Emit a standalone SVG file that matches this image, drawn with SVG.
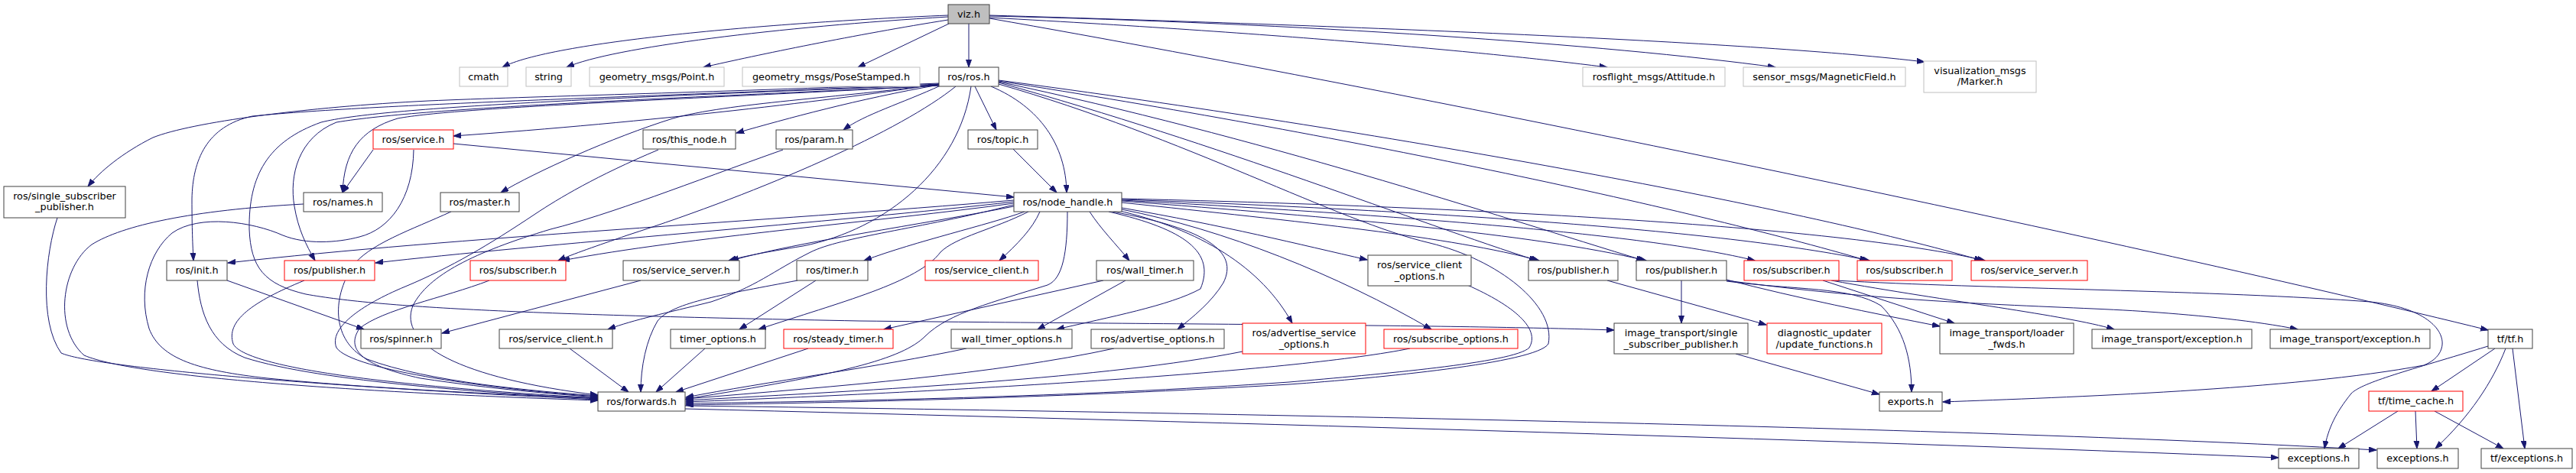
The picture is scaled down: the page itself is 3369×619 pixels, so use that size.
<svg xmlns="http://www.w3.org/2000/svg" width="3369" height="619" viewBox="0 0 3369 619">
<style>
rect{fill:#fff;stroke:#404040;stroke-width:1}
.r rect{stroke:#ff0000}
.g rect{stroke:#bfbfbf}
.m rect{fill:#bfbfbf}
text{font-family:"DejaVu Sans",sans-serif;font-size:12.8px;text-anchor:middle;fill:#000}
#edges path{fill:none;stroke:#191970;stroke-width:1;marker-end:url(#a)}
</style>
<defs>
<marker id="a" markerWidth="12" markerHeight="9" refX="10" refY="3.5" orient="auto" markerUnits="userSpaceOnUse"><path d="M0,0 L10,3.5 L0,7 z" fill="#191970" stroke="#191970"/></marker>
</defs>
<rect x="0" y="0" width="3369" height="619" style="fill:#fff;stroke:none"/>
<g id="edges">
<path d="M1240,20 C1000,30 720,55 657,88"/>
<path d="M1240,22 C1020,35 800,62 741,88"/>
<path d="M1240,26 C1120,45 990,72 920,88"/>
<path d="M1241,31 L1122,88"/>
<path d="M1267,31 L1267,88"/>
<path d="M1294,23 C1700,45 1960,70 2102,88"/>
<path d="M1294,21 C1700,30 2100,58 2322,88"/>
<path d="M1294,20 C1800,35 2300,55 2517,81"/>
<path d="M1294,24 C1900,130 2800,320 3254,432"/>
<path d="M1275,113 L1303,170"/>
<path d="M1296,113 C1360,140 1394,190 1395,252"/>
<path d="M1325,195 L1382,252"/>
<path d="M593,188 L1326,258"/>
<path d="M1228,110 C1100,130 850,160 593,178"/>
<path d="M1228,111 C1120,130 1030,155 963,174"/>
<path d="M1230,112 C1180,135 1130,150 1103,170"/>
<path d="M1228,110 C1100,128 950,135 880,155 C800,180 700,225 655,252"/>
<path d="M1270,113 C1255,220 1160,300 1050,322 C1000,330 970,336 953,341"/>
<path d="M1250,113 C1180,170 1000,250 820,308 C780,322 750,332 730,341"/>
<path d="M1228,109 C900,122 700,126 560,132 C400,140 250,160 200,180 C160,200 130,225 115,244"/>
<path d="M1228,110 C900,125 500,135 330,152 C270,165 252,210 251,260 C251,300 252,320 253,341"/>
<path d="M1228,111 C800,128 500,140 420,160 C350,185 325,230 326,300 C328,350 345,372 400,385 C500,403 700,412 1124,420 C1600,425 1900,425 2111,432"/>
<path d="M1228,112 C900,130 600,140 520,155 C470,170 450,200 448,252"/>
<path d="M1228,112 C900,128 560,140 440,160 C390,180 378,230 385,270 C390,300 400,320 412,341"/>
<path d="M1306,108 C1600,190 1850,290 2010,341"/>
<path d="M1306,107 C1650,180 1950,280 2150,341"/>
<path d="M1306,106 C1750,175 2200,270 2442,341"/>
<path d="M1306,105 C1800,170 2350,270 2592,341"/>
<path d="M1306,110 C1550,180 1750,290 1870,318 C1960,340 2035,400 2025,450 C2010,475 1800,495 1686,503 C1400,520 1100,527 897,530"/>
<path d="M1326,262 C1000,290 600,310 298,344"/>
<path d="M1326,264 C1100,290 700,320 491,344"/>
<path d="M1326,266 C1150,290 900,310 735,341"/>
<path d="M1326,270 C1200,295 1050,315 956,341"/>
<path d="M1340,277 C1290,295 1200,315 1130,341"/>
<path d="M1360,277 C1350,300 1330,320 1307,341"/>
<path d="M1425,277 C1440,300 1460,320 1477,341"/>
<path d="M1396,277 C1396,330 1390,365 1370,373 C1300,395 1240,410 1210,440 C1180,470 1100,490 897,522"/>
<path d="M1345,277 C1300,300 1250,310 1230,330 C1200,370 1100,395 992,431"/>
<path d="M1326,268 C1200,300 1100,310 1060,330 C1010,355 990,375 930,395 C870,410 830,418 795,431"/>
<path d="M1450,277 C1550,300 1590,330 1570,378 C1530,400 1450,415 1382,431"/>
<path d="M1455,277 C1580,300 1620,330 1600,370 C1585,395 1560,415 1540,431"/>
<path d="M1460,275 C1570,300 1650,350 1690,423"/>
<path d="M1467,272 C1600,295 1700,320 1788,340"/>
<path d="M1467,274 C1600,300 1750,360 1872,431"/>
<path d="M1467,265 C1700,290 1900,310 2013,341"/>
<path d="M1467,263 C1750,285 2000,305 2153,341"/>
<path d="M1467,262 C1800,280 2150,305 2295,341"/>
<path d="M1467,261 C1850,275 2250,300 2445,341"/>
<path d="M1467,260 C1900,270 2400,295 2596,341"/>
<path d="M75,285 C60,330 50,420 80,462 C120,480 400,505 782,523"/>
<path d="M397,267 C250,275 160,295 120,320 C80,350 70,430 110,465 C180,495 500,515 782,524"/>
<path d="M590,277 C540,300 480,320 460,350 C430,400 440,450 480,470 C560,500 700,512 782,518"/>
<path d="M488,196 L448,252"/>
<path d="M541,196 C540,260 510,300 470,310 C440,318 400,320 370,308 C330,290 260,280 225,305 C195,330 180,380 195,430 C210,470 260,485 350,495 C500,510 700,518 782,521"/>
<path d="M398,367 C330,395 295,420 305,450 C320,480 500,505 782,521"/>
<path d="M258,367 C262,410 275,450 320,468 C420,500 650,515 782,522"/>
<path d="M297,367 L476,431"/>
<path d="M861,196 C780,230 730,260 700,280 C640,320 590,350 530,375 C470,400 430,430 440,455 C460,485 650,510 782,519"/>
<path d="M1024,196 C900,240 800,280 720,300 C620,330 560,360 540,400 C520,450 600,495 782,517"/>
<path d="M640,367 C580,390 500,405 470,430 C450,460 480,480 550,495 C650,510 720,515 782,520"/>
<path d="M838,367 L578,436"/>
<path d="M1043,367 C950,385 880,395 860,420 C845,445 838,480 838,513"/>
<path d="M1067,367 L967,431"/>
<path d="M745,456 L822,513"/>
<path d="M922,456 L858,513"/>
<path d="M1057,456 L884,513"/>
<path d="M1472,367 L1357,431"/>
<path d="M1443,367 L1156,431"/>
<path d="M1264,456 C1150,480 1000,500 897,520"/>
<path d="M1457,456 C1300,490 1100,505 897,522"/>
<path d="M1625,460 C1450,495 1150,510 897,524"/>
<path d="M1844,456 C1700,485 1300,510 897,526"/>
<path d="M1919,373 C1980,400 2015,430 2000,455 C1980,475 1800,490 1686,500 C1400,520 1100,525 897,528"/>
<path d="M896,535 C1500,550 2400,575 2980,599"/>
<path d="M896,531 C1600,540 2600,560 3108,589"/>
<path d="M2270,463 L2458,516"/>
<path d="M2199,367 L2199,423"/>
<path d="M2102,367 L2310,425"/>
<path d="M2258,366 C2350,390 2450,410 2537,427"/>
<path d="M2258,367 C2500,400 2700,400 2810,408 C2880,413 2950,420 3005,431"/>
<path d="M2258,368 C2350,380 2420,375 2460,400 C2490,430 2500,470 2500,513"/>
<path d="M2384,367 L2556,423"/>
<path d="M2395,367 C2550,395 2700,412 2765,431"/>
<path d="M2400,367 C2600,378 2900,380 3100,395 C3200,405 3215,460 3170,478 C3000,510 2700,520 2541,526"/>
<path d="M3254,453 C3150,485 3090,500 3075,515 C3055,540 3045,560 3040,587"/>
<path d="M3263,456 L3180,512"/>
<path d="M3277,456 C3260,500 3230,545 3185,587"/>
<path d="M3286,456 L3302,587"/>
<path d="M3136,538 L3058,587"/>
<path d="M3159,538 L3161,587"/>
<path d="M3184,538 L3274,587"/>
</g>
<g id="n_viz" class="m"><rect x="1240" y="6" width="54" height="25"/><text x="1267" y="23">viz.h</text></g>
<g id="n_cmath" class="g"><rect x="601" y="88" width="63" height="25"/><text x="632.5" y="105">cmath</text></g>
<g id="n_string" class="g"><rect x="688" y="88" width="59" height="25"/><text x="717.5" y="105">string</text></g>
<g id="n_point" class="g"><rect x="771" y="88" width="176" height="25"/><text x="859" y="105">geometry_msgs/Point.h</text></g>
<g id="n_pose" class="g"><rect x="971" y="88" width="232" height="25"/><text x="1087" y="105">geometry_msgs/PoseStamped.h</text></g>
<g id="n_ros"><rect x="1228" y="88" width="78" height="25"/><text x="1267" y="105">ros/ros.h</text></g>
<g id="n_att" class="g"><rect x="2070" y="88" width="186" height="25"/><text x="2163" y="105">rosflight_msgs/Attitude.h</text></g>
<g id="n_mag" class="g"><rect x="2280" y="88" width="212" height="25"/><text x="2386" y="105">sensor_msgs/MagneticField.h</text></g>
<g id="n_marker" class="g"><rect x="2516" y="80" width="147" height="41"/><text x="2589.5" y="97">visualization_msgs</text><text x="2589.5" y="111">/Marker.h</text></g>
<g id="n_ssp"><rect x="5" y="244" width="159" height="41"/><text x="84.5" y="261">ros/single_subscriber</text><text x="84.5" y="275">_publisher.h</text></g>
<g id="n_service" class="r"><rect x="488" y="170" width="105" height="25"/><text x="540.5" y="187">ros/service.h</text></g>
<g id="n_thisnode"><rect x="841" y="170" width="121" height="25"/><text x="901.5" y="187">ros/this_node.h</text></g>
<g id="n_param"><rect x="1015" y="170" width="100" height="25"/><text x="1065" y="187">ros/param.h</text></g>
<g id="n_topic"><rect x="1266" y="170" width="91" height="25"/><text x="1311.5" y="187">ros/topic.h</text></g>
<g id="n_names"><rect x="397" y="252" width="103" height="25"/><text x="448.5" y="269">ros/names.h</text></g>
<g id="n_master"><rect x="576" y="252" width="103" height="25"/><text x="627.5" y="269">ros/master.h</text></g>
<g id="n_nh"><rect x="1326" y="252" width="141" height="25"/><text x="1396.5" y="269">ros/node_handle.h</text></g>
<g id="n_init"><rect x="218" y="341" width="79" height="26"/><text x="257.5" y="358">ros/init.h</text></g>
<g id="n_pubr" class="r"><rect x="372" y="341" width="118" height="26"/><text x="431" y="358">ros/publisher.h</text></g>
<g id="n_subr" class="r"><rect x="615" y="341" width="125" height="26"/><text x="677.5" y="358">ros/subscriber.h</text></g>
<g id="n_ss"><rect x="815" y="341" width="152" height="26"/><text x="891" y="358">ros/service_server.h</text></g>
<g id="n_timer"><rect x="1042" y="341" width="93" height="26"/><text x="1088.5" y="358">ros/timer.h</text></g>
<g id="n_scr" class="r"><rect x="1210" y="341" width="148" height="26"/><text x="1284" y="358">ros/service_client.h</text></g>
<g id="n_wt"><rect x="1434" y="341" width="127" height="26"/><text x="1497.5" y="358">ros/wall_timer.h</text></g>
<g id="n_sco"><rect x="1789" y="334" width="135" height="40"/><text x="1856.5" y="351">ros/service_client</text><text x="1856.5" y="366">_options.h</text></g>
<g id="n_pub1"><rect x="1999" y="341" width="117" height="26"/><text x="2057.5" y="358">ros/publisher.h</text></g>
<g id="n_pub2"><rect x="2140" y="341" width="118" height="26"/><text x="2199" y="358">ros/publisher.h</text></g>
<g id="n_sub2" class="r"><rect x="2281" y="341" width="124" height="26"/><text x="2343" y="358">ros/subscriber.h</text></g>
<g id="n_sub3" class="r"><rect x="2429" y="341" width="124" height="26"/><text x="2491" y="358">ros/subscriber.h</text></g>
<g id="n_ssr" class="r"><rect x="2578" y="341" width="152" height="26"/><text x="2654" y="358">ros/service_server.h</text></g>
<g id="n_spinner"><rect x="472" y="431" width="105" height="25"/><text x="524.5" y="448">ros/spinner.h</text></g>
<g id="n_sc"><rect x="653" y="431" width="148" height="25"/><text x="727" y="448">ros/service_client.h</text></g>
<g id="n_to"><rect x="877" y="431" width="124" height="25"/><text x="939" y="448">timer_options.h</text></g>
<g id="n_st" class="r"><rect x="1025" y="431" width="143" height="25"/><text x="1096.5" y="448">ros/steady_timer.h</text></g>
<g id="n_wto"><rect x="1244" y="431" width="158" height="25"/><text x="1323" y="448">wall_timer_options.h</text></g>
<g id="n_ao"><rect x="1427" y="431" width="174" height="25"/><text x="1514" y="448">ros/advertise_options.h</text></g>
<g id="n_aso" class="r"><rect x="1625" y="423" width="161" height="40"/><text x="1705.5" y="440">ros/advertise_service</text><text x="1705.5" y="455">_options.h</text></g>
<g id="n_so" class="r"><rect x="1810" y="431" width="175" height="25"/><text x="1897.5" y="448">ros/subscribe_options.h</text></g>
<g id="n_itssp"><rect x="2111" y="423" width="175" height="40"/><text x="2198.5" y="440">image_transport/single</text><text x="2198.5" y="455">_subscriber_publisher.h</text></g>
<g id="n_diag" class="r"><rect x="2311" y="423" width="150" height="40"/><text x="2386" y="440">diagnostic_updater</text><text x="2386" y="455">/update_functions.h</text></g>
<g id="n_lf"><rect x="2537" y="423" width="175" height="40"/><text x="2624.5" y="440">image_transport/loader</text><text x="2624.5" y="455">_fwds.h</text></g>
<g id="n_ex1"><rect x="2736" y="431" width="209" height="25"/><text x="2840.5" y="448">image_transport/exception.h</text></g>
<g id="n_ex2"><rect x="2969" y="431" width="209" height="25"/><text x="3073.5" y="448">image_transport/exception.h</text></g>
<g id="n_tf"><rect x="3254" y="431" width="58" height="25"/><text x="3283" y="448">tf/tf.h</text></g>
<g id="n_fwd"><rect x="782" y="513" width="114" height="25"/><text x="839" y="530">ros/forwards.h</text></g>
<g id="n_exports"><rect x="2458" y="513" width="82" height="25"/><text x="2499" y="530">exports.h</text></g>
<g id="n_tc" class="r"><rect x="3098" y="512" width="123" height="26"/><text x="3159.5" y="529">tf/time_cache.h</text></g>
<g id="n_exc1"><rect x="2980" y="587" width="105" height="26"/><text x="3032.5" y="604">exceptions.h</text></g>
<g id="n_exc2"><rect x="3109" y="587" width="106" height="26"/><text x="3162" y="604">exceptions.h</text></g>
<g id="n_tfexc"><rect x="3245" y="587" width="119" height="26"/><text x="3304.5" y="604">tf/exceptions.h</text></g>
</svg>
